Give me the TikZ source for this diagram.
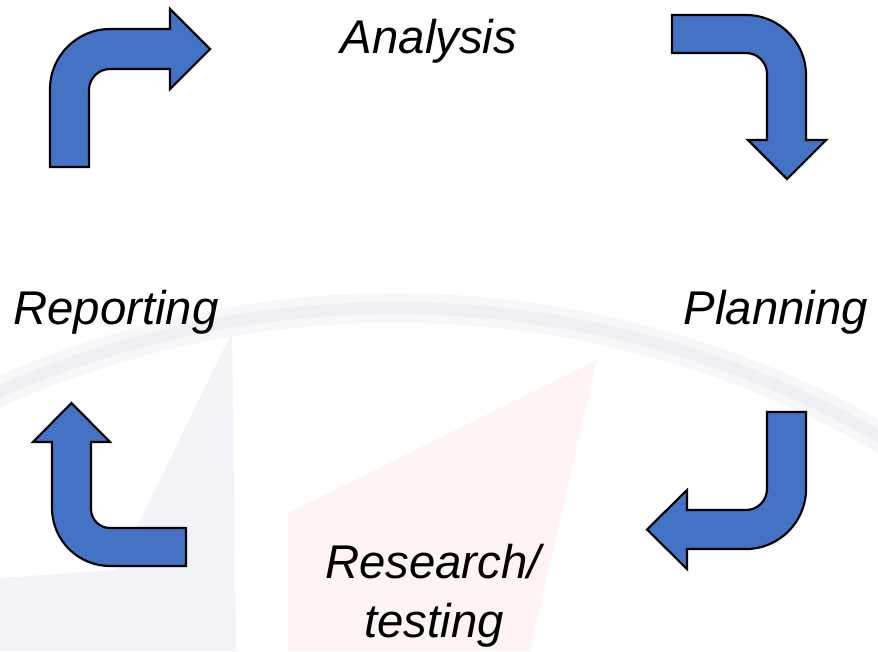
\documentclass[tikz,border=0pt]{standalone}
\usepackage{fontspec}
\setmainfont{Liberation Sans}
\definecolor{arrowblue}{HTML}{4472C4}
\definecolor{wmgray}{HTML}{F2F3F6}
\definecolor{wmbandsoft}{HTML}{F6F7F9}
\definecolor{wmband}{HTML}{EFF0F4}
\definecolor{wmpink}{HTML}{FEF4F4}
\tikzset{
  bentarrow/.style={fill=arrowblue, draw=black, line width=1.6pt, line join=miter},
  lbl/.style={anchor=base, inner sep=0pt, font=\fontsize{35.5}{42}\selectfont\itshape}
}
\begin{document}
\begin{tikzpicture}[x=0.75pt, y=-0.75pt]
\useasboundingbox (0,0) rectangle (878,651);
\fill[white] (0,0) rectangle (878,651);
% faint watermark
\fill[wmgray] (232,332) -- (236,651) -- (0,651) -- (0,578) -- (116,570) -- cycle;
\fill[wmpink] (597,360) -- (288,513) -- (288,651) -- (530,651) -- cycle;
\begin{scope}
\clip (0,0) rectangle (878,651);
\draw[wmbandsoft, line width=22pt] (395,1283) circle[radius=975];
\draw[wmband, line width=9pt] (395,1283) circle[radius=975];
\end{scope}
% arrows
\draw[bentarrow] (50,167) -- (50,89) .. controls (50,56) and (77,29) .. (110,29)
  -- (170,29) -- (170,9) -- (210,49) -- (170,89) -- (170,69) -- (110,69)
  .. controls (98.4,69) and (89,78.4) .. (89,90) -- (89,167) -- cycle;
\draw[bentarrow] (672,15) -- (746,15) .. controls (779,15) and (806,42) .. (806,75)
  -- (806,140) -- (826,140) -- (787,179) -- (748,140) -- (767,140) -- (767,74)
  .. controls (767,62.4) and (757.6,53) .. (746,53) -- (672,53) -- cycle;
\draw[bentarrow] (767,412) -- (806,412) -- (806,489) .. controls (806,522) and (779,549) .. (746,549)
  -- (687,549) -- (687,569) -- (647,529.5) -- (687,490) -- (687,510) -- (746,510)
  .. controls (757.6,510) and (767,500.6) .. (767,489) -- cycle;
\draw[bentarrow] (186,528) -- (186,566) -- (110,566) .. controls (78,566) and (52,540) .. (52,508)
  -- (52,442) -- (33,442) -- (71.5,403) -- (110,442) -- (91,442) -- (91,509)
  .. controls (91,519.5) and (99.5,528) .. (110,528) -- cycle;
% labels
\node[lbl] (analysis) at (429,53) {Analysis};
\node[lbl] (planning) at (776,324) {Planning};
\node[lbl] (reporting) at (116,324) {Reporting};
\node[lbl] (research) at (433,578) {Research/};
\node[lbl] (testing) at (434,637) {testing};
\end{tikzpicture}
\end{document}
